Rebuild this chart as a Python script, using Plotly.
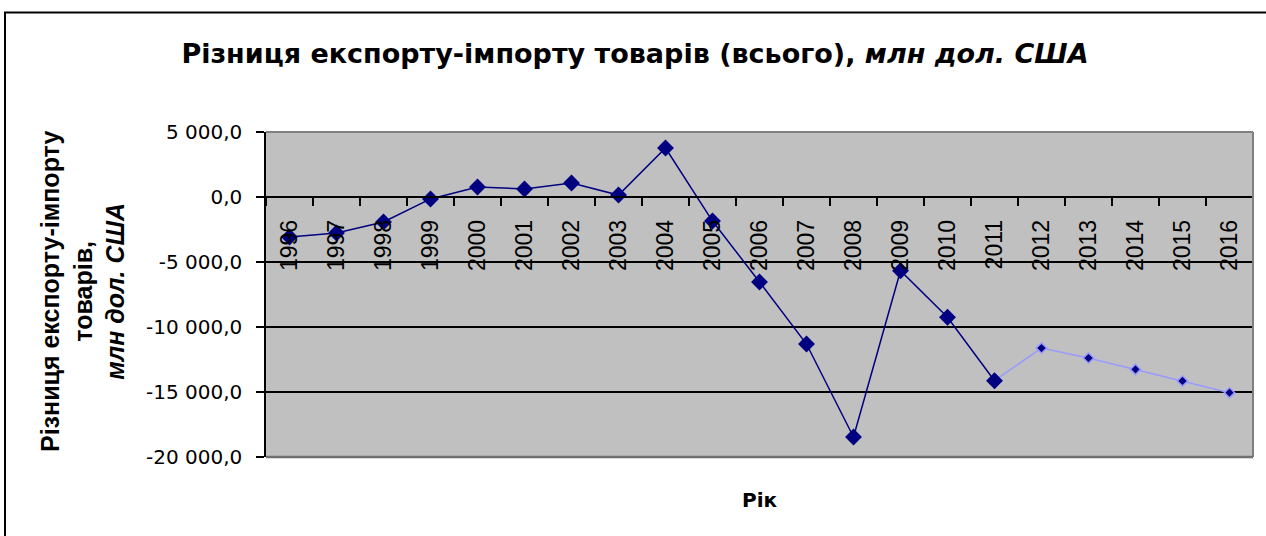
import plotly.graph_objects as go

years = [str(y) for y in range(1996, 2017)]
actual_years = years[:16]            # 1996-2011
actual_values = [-3080, -2770, -1920, -150, 770, 620, 1080, 150, 3770, -1850,
                 -6540, -11310, -18460, -5670, -9250, -14130]
forecast_years = years[15:]          # 2011-2016
forecast_values = [-14130, -11620, -12390, -13260, -14150, -15050]

y_tickvals = [5000, 0, -5000, -10000, -15000, -20000]
y_ticktext = ["5 000,0", "0,0", "-5 000,0", "-10 000,0", "-15 000,0", "-20 000,0"]

WIDE = "DejaVu Sans, sans-serif"
ARIAL = "Liberation Sans, Arial, sans-serif"

# plot area in pixels: left 266, right 1253, top 132, bottom 457
def px_x(p):
    return (p - 266) / 987

def px_y(p):
    return (457 - p) / 325

fig = go.Figure()
fig.add_trace(go.Scatter(
    x=forecast_years, y=forecast_values, mode="lines+markers",
    line=dict(color="#9999FF", width=1.5),
    marker=dict(symbol="diamond", size=8, color="#000080",
                line=dict(color="#9999FF", width=1.5)),
    showlegend=False, cliponaxis=False,
))
fig.add_trace(go.Scatter(
    x=actual_years, y=actual_values, mode="lines+markers",
    line=dict(color="#000080", width=1.5),
    marker=dict(symbol="diamond", size=13, color="#000080"),
    showlegend=False, cliponaxis=False,
))

fig.update_layout(
    width=1266, height=536,
    margin=dict(l=266, r=13, t=132, b=79),
    paper_bgcolor="white", plot_bgcolor="#C0C0C0",
    font=dict(family=WIDE, color="black", size=20),
    title=dict(
        text="<b>Різниця експорту-імпорту товарів (всього), <i>млн дол. США</i></b>",
        x=635 / 1266, xref="container", xanchor="center",
        y=1 - 54 / 536, yref="container", yanchor="middle",
        font=dict(size=27, family=WIDE),
    ),
    xaxis=dict(
        type="category", categoryorder="array", categoryarray=years,
        anchor="free", position=0.8,
        showline=True, linecolor="black", linewidth=1.5,
        ticks="outside", ticklen=8, tickwidth=1.5, tickcolor="black",
        tickson="boundaries", tickangle=-90, ticklabelstandoff=13,
        tickfont=dict(size=23, family=ARIAL),
        showgrid=False, zeroline=False,
        range=[-0.5, 20.5],
    ),
    yaxis=dict(
        range=[-20000, 5000],
        tickvals=y_tickvals, ticktext=y_ticktext,
        showline=True, linecolor="black", linewidth=1.5,
        ticks="outside", ticklen=8, tickwidth=1.5, tickcolor="black",
        ticklabelstandoff=10,
        showgrid=True, gridcolor="black", gridwidth=1.5,
        zeroline=False,
        tickfont=dict(size=20, family=WIDE),
    ),
    annotations=[
        dict(text="<b>Рік</b>", xref="paper", yref="paper",
             x=0.5, y=px_y(500), xanchor="center", yanchor="middle",
             showarrow=False, font=dict(size=20, family=WIDE)),
        dict(text="<b>Різниця експорту-імпорту<br>товарів,<br><i>млн дол. США</i></b>",
             xref="paper", yref="paper", x=px_x(82), y=px_y(292),
             xanchor="center", yanchor="middle", textangle=-90,
             showarrow=False, font=dict(size=25, family=ARIAL)),
    ],
    shapes=[
        dict(type="line", xref="paper", yref="paper", x0=0, x1=1, y0=1, y1=1,
             line=dict(color="#808080", width=2), layer="above"),
        dict(type="line", xref="paper", yref="paper", x0=1, x1=1, y0=0, y1=1,
             line=dict(color="#808080", width=2), layer="above"),
        dict(type="line", xref="paper", yref="paper", x0=0, x1=1, y0=0, y1=0,
             line=dict(color="#707070", width=2.5), layer="above"),
        dict(type="rect", xref="paper", yref="paper",
             x0=px_x(5), x1=px_x(1275), y0=px_y(545), y1=px_y(12.5),
             line=dict(color="black", width=2), layer="below"),
    ],
)

fig.write_html("out.html", config={"displayModeBar": False},
               post_script="document.body.style.margin='0';")
